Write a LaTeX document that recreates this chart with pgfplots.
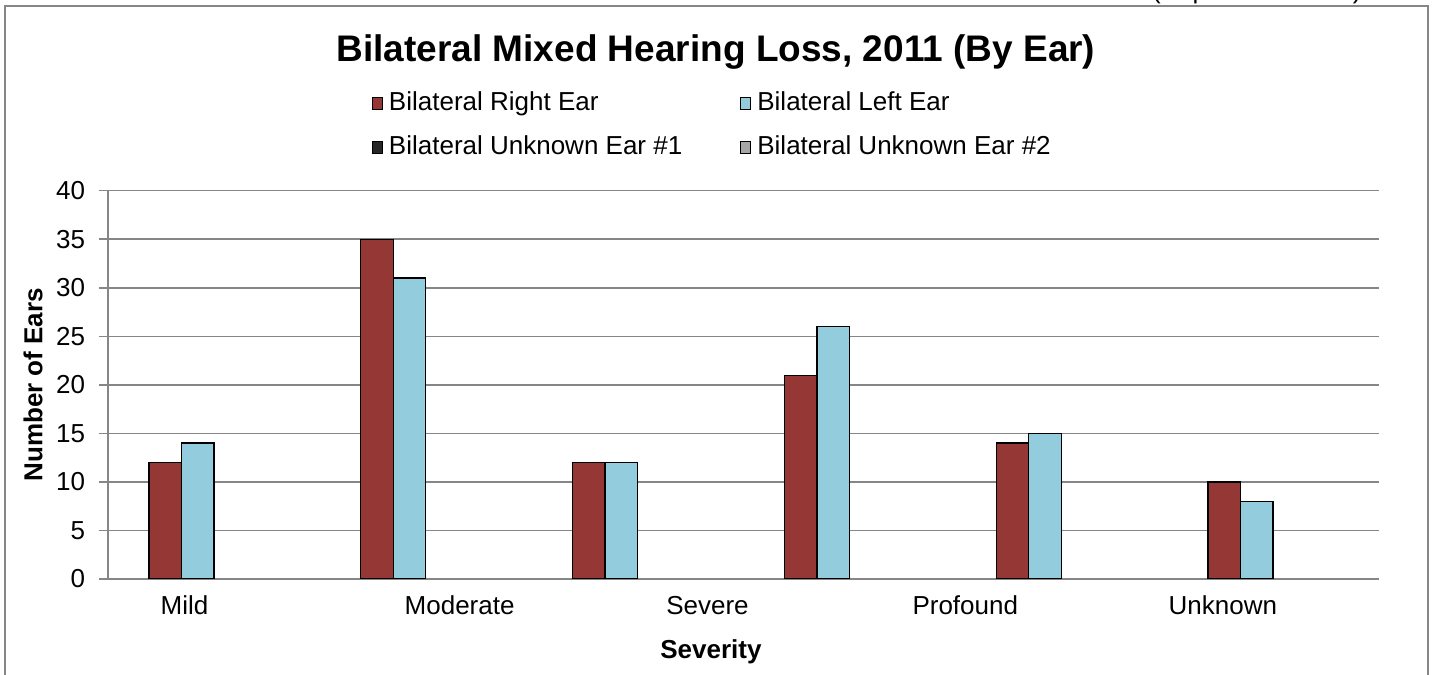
\documentclass[border=0pt]{standalone}
\usepackage{fontspec}
\setmainfont{Liberation Sans}
\usepackage{pgfplots}
\pgfplotsset{compat=1.18}
\definecolor{ered}{HTML}{953735}
\definecolor{eblue}{HTML}{93CDDD}
\definecolor{edark}{HTML}{262626}
\definecolor{egray}{HTML}{A6A6A6}
\definecolor{gridgray}{HTML}{868686}
\pgfplotsset{sqlegend/.style={legend image code/.code={\draw[##1,line width=0.5pt] (0pt,-2.7pt) rectangle (5pt,3.3pt);}}}
\begin{document}
\begin{tikzpicture}
\useasboundingbox (0,0) rectangle (718pt,337.5pt);
% frame
\draw[gridgray, line width=1.2pt] (2.6pt,-2pt) -- (2.6pt,334.5pt) -- (714pt,334.5pt) -- (714pt,-2pt);
% clipped header text
\node[anchor=base east, inner sep=0pt, font=\fontsize{13}{15}\selectfont] at (681pt,338.3pt) {(September 2013)};
\begin{axis}[
  at={(54pt,48pt)}, anchor=south west, scale only axis,
  width=635.5pt, height=194.15pt,
  xmin=-0.5, xmax=5.5, ymin=0, ymax=40,
  ytick={0,5,...,40},
  ymajorgrids, grid style={gridgray, line width=0.75pt},
  axis x line*=bottom, axis y line*=left,
  axis line style={gridgray, line width=0.75pt, -},
  xtick={-0.139,1.160,2.330,3.547,4.763},
  xticklabels={Mild,Moderate,Severe,Profound,Unknown},
  x tick style={draw=none},
  y tick style={gridgray, line width=0.75pt},
  major tick length=4.5pt, tick align=outside,
  /pgf/number format/assume math mode=true,
  ticklabel style={font=\fontsize{13}{15}\selectfont},
  yticklabel style={inner sep=0pt, xshift=-6.8pt},
  xticklabel style={anchor=base, inner sep=0pt, yshift=-13.5pt},
  xlabel={Severity}, ylabel={Number of Ears},
  xlabel style={font=\bfseries\fontsize{13}{15}\selectfont, at={(axis description cs:0.4744,-0.188)}, anchor=center},
  ylabel style={font=\bfseries\fontsize{13}{15}\selectfont, at={(axis description cs:-0.059,0.5)}, anchor=center, rotate=0},
  legend columns=2,
  legend cell align=left,
  legend style={draw=none, fill=none, inner sep=0pt, outer sep=0pt,
    at={(0.2077,1.2714)}, anchor=north west,
    font=\fontsize{13}{15}\selectfont,
    nodes={inner sep=3pt, text height=9.5pt, text depth=2.8pt},
    column sep=0pt, row sep=3.7pt,
    /tikz/every even column/.append style={column sep=26pt}},
]
\addplot[ybar, bar width=16.25pt, bar shift=-24.375pt, fill=ered, draw=black, line width=0.6pt, sqlegend]
  coordinates {(0,12) (1,35) (2,12) (3,21) (4,14) (5,10)};
\addlegendentry{Bilateral Right Ear}
\addplot[ybar, bar width=16.25pt, bar shift=-8.125pt, fill=eblue, draw=black, line width=0.6pt, sqlegend]
  coordinates {(0,14) (1,31) (2,12) (3,26) (4,15) (5,8)};
\addlegendentry{Bilateral Left Ear}
\addlegendimage{sqlegend, fill=edark, draw=black}
\addlegendentry{Bilateral Unknown Ear \#1}
\addlegendimage{sqlegend, fill=egray, draw=black}
\addlegendentry{Bilateral Unknown Ear \#2}
\end{axis}
\node[font=\bfseries\fontsize{18.5}{22}\selectfont, inner sep=0pt] at (358pt,311.5pt) {Bilateral Mixed Hearing Loss, 2011 (By Ear)};
\end{tikzpicture}
\end{document}
